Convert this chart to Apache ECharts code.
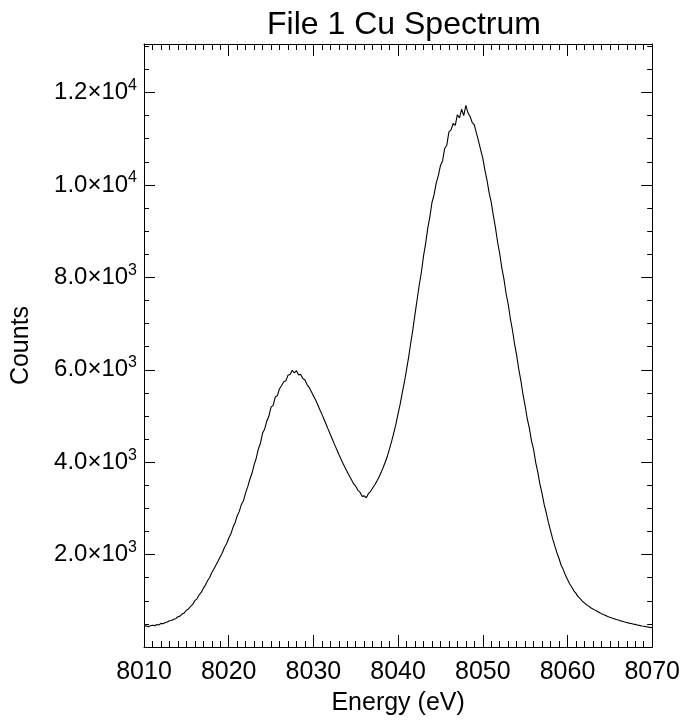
<!DOCTYPE html>
<html>
<head>
<meta charset="utf-8">
<script src="https://cdn.jsdelivr.net/npm/echarts@6/dist/echarts.min.js"></script>
<style>
html,body{margin:0;padding:0;background:#fff;}
#chart{width:683px;height:721px;}
</style>
</head>
<body>
<div id="chart"></div>
<script>
// Energy axis: start and step (eV)
const energyStart = 8010;
const energyStep = 0.25;
// Counts, one per 0.25 eV from 8010 to 8070
const counts = [
445,462,438,460,472,462,488,476,512,502,532,540,568,574,600,612,
655,668,712,738,795,822,880,922,1002,1042,1125,1180,1268,1340,1432,1505,
1605,1690,1775,1862,1955,2040,2155,2235,2355,2445,2585,2690,2835,2935,3085,3170,
3340,3470,3630,3760,3940,4085,4285,4410,4630,4720,4890,5000,5190,5230,5410,5440,
5590,5660,5740,5760,5880,5900,5990,5930,5980,5890,5900,5810,5780,5680,5620,5530,
5440,5350,5250,5140,5040,4930,4820,4710,4600,4490,4380,4280,4170,4070,3970,3880,
3790,3700,3620,3530,3480,3390,3350,3260,3270,3230,3320,3370,3440,3510,3590,3680,
3780,3890,4010,4140,4300,4460,4640,4830,5050,5260,5510,5740,6010,6280,6590,6880,
7210,7520,7840,8110,8460,8730,9060,9310,9620,9790,10040,10200,10420,10520,10790,10860,
11150,11190,11330,11290,11520,11450,11640,11500,11720,11560,11480,11350,11300,11120,10950,10760,
10580,10320,10100,9830,9620,9330,9070,8760,8510,8200,7960,7650,7420,7110,6860,6560,
6310,6010,5760,5460,5220,4940,4730,4460,4270,3990,3780,3520,3320,3080,2900,2690,
2520,2340,2190,2040,1915,1770,1675,1560,1460,1370,1300,1215,1160,1090,1045,990,
955,915,885,850,822,798,772,748,722,702,684,660,642,626,612,594,
584,566,556,540,532,516,508,496,490,474,468,456,450,440,434,424,
420
];
// Axis tick settings
const xTicks = [8010, 8020, 8030, 8040, 8050, 8060, 8070];
const yTicks = [2000, 4000, 6000, 8000, 10000, 12000];
const titleText = 'File 1 Cu Spectrum';
const xTitle = 'Energy (eV)';
const yTitle = 'Counts';

const seriesData = counts.map((v, i) => [energyStart + i * energyStep, v]);

function sciLabel(v) {
  if (v === 0) return '';
  const e = Math.floor(Math.log10(v) + 1e-9);
  const m = (v / Math.pow(10, e)).toFixed(1);
  return '{b|' + m + '×10}{s|' + e + '}';
}

const FONT = '"Liberation Sans", Arial, Helvetica, sans-serif';
const lineStyle = { color: '#000', width: 1 };

const chart = echarts.init(document.getElementById('chart'), null, { renderer: 'canvas' });
chart.setOption({
  animation: false,
  backgroundColor: '#fff',
  title: {
    text: titleText,
    left: 399, top: 4, textAlign: 'center',
    textStyle: { fontFamily: FONT, fontSize: 32, fontWeight: 'normal', color: '#000' }
  },
  grid: { left: 144, right: 29, top: 44, bottom: 68, containLabel: false },
  xAxis: [{
    type: 'value', min: 8010, max: 8070, interval: 10,
    name: xTitle, nameLocation: 'middle', nameGap: 44,
    nameTextStyle: { fontFamily: FONT, fontSize: 25, color: '#000' },
    axisLine: { show: true, onZero: false, lineStyle },
    axisTick: { show: true, inside: true, length: 12, lineStyle },
    minorTick: { show: true, splitNumber: 10, length: 6, lineStyle },
    splitLine: { show: false },
    axisLabel: { fontFamily: FONT, fontSize: 25, color: '#000', margin: 13,
      formatter: v => xTicks.includes(v) ? String(v) : '' }
  }, {
    type: 'value', min: 8010, max: 8070, interval: 10, position: 'top',
    axisLine: { show: true, onZero: false, lineStyle },
    axisTick: { show: true, inside: true, length: 12, lineStyle },
    minorTick: { show: true, splitNumber: 10, length: 6, lineStyle },
    splitLine: { show: false }, axisLabel: { show: false }
  }],
  yAxis: [{
    type: 'value', min: 0, max: 13050, interval: 2000,
    name: yTitle, nameLocation: 'middle', nameGap: 110, nameRotate: 90,
    nameTextStyle: { fontFamily: FONT, fontSize: 25, color: '#000' },
    axisLine: { show: true, onZero: false, lineStyle },
    axisTick: { show: true, inside: true, length: 11, lineStyle },
    minorTick: { show: true, splitNumber: 4, length: 5, lineStyle },
    splitLine: { show: false },
    axisLabel: {
      margin: 7, color: '#000',
      formatter: v => yTicks.includes(v) ? sciLabel(v) : '',
      rich: {
        b: { fontFamily: FONT, fontSize: 24, color: '#000', lineHeight: 30 },
        s: { fontFamily: FONT, fontSize: 16, color: '#000', lineHeight: 30, verticalAlign: 'top', padding: [0, 0, 10, 0] }
      }
    }
  }, {
    type: 'value', min: 0, max: 13050, interval: 2000, position: 'right',
    axisLine: { show: true, onZero: false, lineStyle },
    axisTick: { show: true, inside: true, length: 11, lineStyle },
    minorTick: { show: true, splitNumber: 4, length: 5, lineStyle },
    splitLine: { show: false }, axisLabel: { show: false }
  }],
  series: [{
    type: 'line', data: seriesData, xAxisIndex: 0, yAxisIndex: 0,
    showSymbol: false, symbol: 'none', smooth: false,
    lineStyle: { color: '#000', width: 1.1 }, clip: true
  }]
});
</script>
</body>
</html>
